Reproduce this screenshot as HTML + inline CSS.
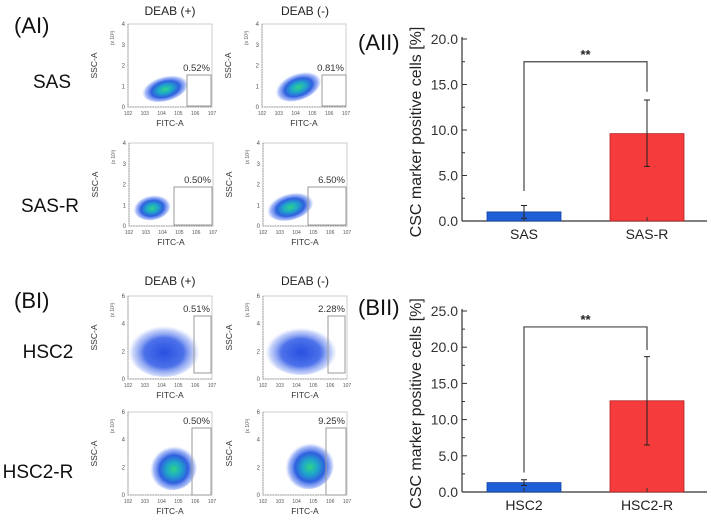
<!DOCTYPE html>
<html><head><meta charset="utf-8">
<style>
body{margin:0;background:#fff;}
svg{display:block;font-family:"Liberation Sans",sans-serif;}
</style></head>
<body>
<svg id="fig" width="711" height="520" viewBox="0 0 711 520">
<defs>
<radialGradient id="cloud" cx="50%" cy="55%" r="50%">
<stop offset="0" stop-color="#2fd38a"/>
<stop offset="0.3" stop-color="#1fa8c8"/>
<stop offset="0.6" stop-color="#2f5fe0"/>
<stop offset="0.85" stop-color="#6f8ff2" stop-opacity="0.6"/>
<stop offset="1" stop-color="#b8c6fa" stop-opacity="0"/>
</radialGradient>
<radialGradient id="cloudw" cx="50%" cy="55%" r="50%">
<stop offset="0" stop-color="#2750e0"/>
<stop offset="0.55" stop-color="#4d72ea"/>
<stop offset="0.85" stop-color="#9fb3f5" stop-opacity="0.6"/>
<stop offset="1" stop-color="#d0dafb" stop-opacity="0"/>
</radialGradient>
</defs>
<g font-size="22" fill="#111">
<text x="14" y="33">(AI)</text>
<text x="358" y="50">(AII)</text>
<text x="14" y="308">(BI)</text>
<text x="358" y="315">(BII)</text>
</g>
<g font-size="19" fill="#111" text-anchor="middle">
<text x="52" y="88">SAS</text>
<text x="50" y="212">SAS-R</text>
<text x="48" y="358">HSC2</text>
<text x="38" y="478">HSC2-R</text>
</g>
<g font-size="12" fill="#222" text-anchor="middle">
<text x="170" y="15">DEAB (+)</text>
<text x="305" y="15">DEAB (-)</text>
<text x="170" y="285">DEAB (+)</text>
<text x="305" y="285">DEAB (-)</text>
</g>
<g id="flows"></g>
<g id="barA"></g>
<g id="barB"></g>
</svg>
<script>
// Bar chart data
const categoriesA = ["SAS", "SAS-R"];
const valuesA = [1.0, 9.6];
const errLowA = [0.3, 6.0];
const errHighA = [1.7, 13.3];
const ticksA = [0, 5, 10, 15, 20];
const tickLabelsA = ["0.0", "5.0", "10.0", "15.0", "20.0"];
const bracketA = [3.3, 17.5, 14.2];

const categoriesB = ["HSC2", "HSC2-R"];
const valuesB = [1.3, 12.6];
const errLowB = [0.9, 6.5];
const errHighB = [1.7, 18.7];
const ticksB = [0, 5, 10, 15, 20, 25];
const tickLabelsB = ["0.0", "5.0", "10.0", "15.0", "20.0", "25.0"];
const bracketB = [2.7, 22.8, 19.6];

// flow panel gate percentages
const gatePct = ["0.52%", "0.81%", "0.50%", "6.50%", "0.51%", "2.28%", "0.50%", "9.25%"];

const NS = "http://www.w3.org/2000/svg";
function mk(parent, tag, attrs, text) {
  const e = document.createElementNS(NS, tag);
  for (const k in attrs) e.setAttribute(k, attrs[k]);
  if (text !== undefined) e.textContent = text;
  parent.appendChild(e);
  return e;
}

function barChart(gid, cats, vals, lo, hi, ticks, labels, br, y0, yTopPx, maxV, name) {
  const g = document.getElementById(gid);
  const L = 462, R = 707;
  const y = v => y0 - (v / maxV) * (y0 - yTopPx);
  const xc = [524, 647], bw = 74;
  const colors = ["#1f5fd6", "#f53b3b"], strokes = ["#1540a0", "#b02020"];
  let e = mk(g, "line", {x1: L, y1: y(maxV) - 2, x2: L, y2: y0, stroke: "#333", "stroke-width": 1.2});
  
  
  e = mk(g, "line", {x1: L, y1: y0, x2: R, y2: y0, stroke: "#333", "stroke-width": 1.2});
  
  
  ticks.forEach((t, i) => {
    let tl = mk(g, "line", {x1: L, y1: y(t), x2: L + 5, y2: y(t), stroke: "#333"});
    
    
    if (i < ticks.length - 1) {
      let m = mk(g, "line", {x1: L, y1: y(t + 2.5), x2: L + 3, y2: y(t + 2.5), stroke: "#333"});
      
      
    }
    let tx = mk(g, "text", {x: L - 4, y: y(t) + 5, "text-anchor": "end", "font-size": 14, fill: "#333"}, labels[i]);
    
    
  });
  const midY = (y0 + yTopPx) / 2 + 2;
  let yt = mk(g, "text", {x: 0, y: 0, transform: `translate(421,${midY}) rotate(-90)`, "text-anchor": "middle", "font-size": 16, fill: "#222"}, "CSC marker positive cells [%]");
  
  
  cats.forEach((c, i) => {
    let b = mk(g, "rect", {x: xc[i] - bw / 2, y: y(vals[i]), width: bw, height: y0 - y(vals[i]), fill: colors[i], stroke: strokes[i], "stroke-width": 0.8});
    
    
    let eb = mk(g, "path", {d: `M${xc[i]},${y(lo[i])}V${y(hi[i])}M${xc[i]-3},${y(hi[i])}H${xc[i]+3}M${xc[i]-3},${y(lo[i])}H${xc[i]+3}`, stroke: "#222", "stroke-width": 1, fill: "none"});
    
    
    let tk = mk(g, "line", {x1: xc[i], y1: y0, x2: xc[i], y2: y0 - 4, stroke: "#333"});
    
    
    let xl = mk(g, "text", {x: xc[i], y: y0 + 18, "text-anchor": "middle", "font-size": 14, fill: "#222"}, c);
    
    
  });
  let bk = mk(g, "path", {d: `M${xc[0]},${y(br[0])}V${y(br[1])}H${xc[1]}V${y(br[2])}`, stroke: "#444", "stroke-width": 1.2, fill: "none"});
  
  
  let st = mk(g, "text", {x: (xc[0] + xc[1]) / 2, y: y(br[1]) - 3, "text-anchor": "middle", "font-size": 13, "font-weight": "bold", fill: "#222"}, "**");
  
  
}
barChart("barA", categoriesA, valuesA, errLowA, errHighA, ticksA, tickLabelsA, bracketA, 221, 39, 20, "chart-aii");
barChart("barB", categoriesB, valuesB, errLowB, errHighB, ticksB, tickLabelsB, bracketB, 492, 311, 25, "chart-bii");

// flow cytometry panels
const panels = [
  {x:128,y:24,ymax:4,gx:187,gy:75,gw:24,gh:31,c:[165,88,24,13,-15],grad:"cloud"},
  {x:262,y:24,ymax:4,gx:322,gy:75,gw:24,gh:31,c:[298,86,24,14,-20],grad:"cloud"},
  {x:129,y:143,ymax:4,gx:174,gy:187,gw:38,gh:38,c:[152,207,19,13,-10],grad:"cloud"},
  {x:263,y:143,ymax:4,gx:308,gy:187,gw:38,gh:38,c:[290,206,24,14,-15],grad:"cloud"},
  {x:128,y:296,ymax:6,gx:194,gy:316,gw:17,gh:57,c:[164,350,36,27,0],grad:"cloudw"},
  {x:263,y:296,ymax:6,gx:328,gy:316,gw:17,gh:57,c:[301,350,36,25,0],grad:"cloudw"},
  {x:128,y:412,ymax:6,gx:192,gy:428,gw:19,gh:67,c:[173,467,24,23,-20],grad:"cloud"},
  {x:263,y:412,ymax:6,gx:326,gy:428,gw:20,gh:67,c:[309,465,25,24,-25],grad:"cloud"}
];
const fg = document.getElementById("flows");
const xexp = ["2","3","4","5","6","7"];
panels.forEach((p, i) => {
  const g = mk(fg, "g", {});
  
  
  const W = 84, H = 83;
  let fr = mk(g, "rect", {x: p.x, y: p.y, width: W, height: H, fill: "#fff", stroke: "#ccc", "stroke-width": 1});
  
  
  mk(g, "path", {d: `M${p.x},${p.y}V${p.y+H}H${p.x+W}`, stroke: "#888", "stroke-width": 0.8, "stroke-dasharray": "1.5,1", fill: "none"});
  let cl = mk(g, "ellipse", {cx: p.c[0], cy: p.c[1], rx: p.c[2], ry: p.c[3], fill: `url(#${p.grad})`, transform: `rotate(${p.c[4]} ${p.c[0]} ${p.c[1]})`});
  
  
  let gt = mk(g, "rect", {x: p.gx, y: p.gy, width: p.gw, height: p.gh, fill: "none", stroke: "#999", "stroke-width": 1});
  
  
  let pt = mk(g, "text", {x: p.x + W - 2, y: p.gy - 4, "text-anchor": "end", "font-size": 9.5, fill: "#333"}, gatePct[i]);
  
  
  const step = p.ymax === 4 ? 1 : 2;
  for (let v = 0; v <= p.ymax; v += step) {
    const yy = p.y + H - v / p.ymax * H;
    let t = mk(g, "text", {x: p.x - 3, y: yy + 2, "text-anchor": "end", "font-size": 6, fill: "#555"}, String(v));
    
    
  }
  xexp.forEach((ex, k) => {
    const xx = p.x + k * W / 5;
    let t = mk(g, "text", {x: xx, y: p.y + H + 8, "text-anchor": "middle", "font-size": 5, fill: "#555"}, "10" + ex);
    
    
  });
  let xt = mk(g, "text", {x: p.x + W / 2, y: p.y + H + 19, "text-anchor": "middle", "font-size": 8.5, fill: "#333"}, "FITC-A");
  
  
  let ytt = mk(g, "text", {x: 0, y: 0, transform: `translate(${p.x - 31},${p.y + H / 2}) rotate(-90)`, "text-anchor": "middle", "font-size": 8.5, fill: "#333"}, "SSC-A");
  
  
  let sc = mk(g, "text", {x: 0, y: 0, transform: `translate(${p.x - 14},${p.y + 14}) rotate(-90)`, "text-anchor": "middle", "font-size": 5, fill: "#555"}, "(x 10³)");
  
  
});
</script>
</body></html>
